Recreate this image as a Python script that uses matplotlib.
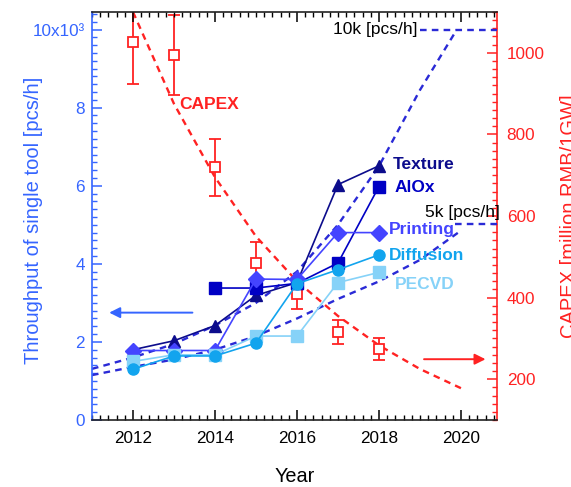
import matplotlib
matplotlib.use("Agg")
import matplotlib.pyplot as plt
from matplotlib.ticker import MultipleLocator, FixedLocator

plt.rcParams["font.family"] = ["Liberation Sans", "DejaVu Sans"]

# ---- data ---------------------------------------------------------------
years = [2012, 2013, 2014, 2015, 2016, 2017, 2018]
texture = [1.80, 2.03, 2.42, 3.19, 3.52, 6.03, 6.51]          # x10^3 pcs/h
alox_years = [2014, 2015, 2016, 2017, 2018]
alox = [3.38, 3.38, 3.50, 4.02, 5.98]
printing = [1.78, 1.78, 1.78, 3.61, 3.60, 4.80, 4.80]
diffusion = [1.30, 1.64, 1.64, 1.97, 3.49, 3.85, 4.23]
pecvd = [1.50, 1.67, 1.67, 2.15, 2.15, 3.52, 3.78]

capex = [1027, 995, 719, 486, 408, 316, 273]                  # million RMB / 1GW
capex_err = [103, 98, 70, 50, 35, 30, 27]

# throughput trend curves
trend_hi_years = [2011, 2012, 2013, 2014, 2015, 2016, 2017, 2018, 2019, 2019.9]
trend_hi = [1.31, 1.60, 1.95, 2.42, 3.00, 3.80, 5.00, 6.50, 8.45, 10.0]
cap_hi_years = [2019.0, 2021.0]
cap_hi = [10.0, 10.0]

trend_lo_years = [2011, 2012, 2013, 2014, 2015, 2016, 2017, 2018, 2019, 2020.0]
trend_lo = [1.15, 1.36, 1.55, 1.80, 2.15, 2.60, 3.10, 3.55, 4.10, 4.85]
cap_lo_years = [2019.85, 2021.0]
cap_lo = [5.03, 5.03]

# CAPEX trend curve
capex_trend_years = [2012, 2013, 2014, 2015, 2016, 2017, 2018, 2019, 2020]
capex_trend = [1100, 875, 695, 550, 440, 355, 283, 225, 178]

x_ticks = [2012, 2014, 2016, 2018, 2020]
left_ticks = [0, 2, 4, 6, 8, 10]
left_labels = ["0", "2", "4", "6", "8", "10x10\u00b3"]
right_ticks = [200, 400, 600, 800, 1000]

# ---- colours ------------------------------------------------------------
BLUE_AX = "#3565ff"
RED = "#ff2222"
C_TEX = "#0c0c8c"
C_ALOX = "#0000c4"
C_PRINT = "#4444ff"
C_DIFF = "#12a4ee"
C_PECVD = "#86d2f8"
C_TREND = "#2a2ad6"

fig = plt.figure(figsize=(5.71, 4.87), dpi=100)
ax = fig.add_axes([92 / 571, 1 - 420 / 487, 405 / 571, 408 / 487])
ax2 = ax.twinx()
ax.set_zorder(ax2.get_zorder() + 1)
ax.patch.set_visible(False)

# ---- right axis: CAPEX ----------------------------------------------------
ax2.plot(capex_trend_years, capex_trend, color=RED, lw=1.7,
         linestyle=(0, (2.8, 2.2)))
ax2.errorbar(years, capex, yerr=capex_err, fmt="s", color=RED, ecolor=RED,
             mfc="white", mec=RED, ms=7, mew=1.3, elinewidth=1.3,
             capsize=4, capthick=1.3)
ax2.annotate("", xy=(2020.6, 249), xytext=(2019.1, 249),
             arrowprops=dict(arrowstyle="-|>", color=RED, lw=1.4,
                             mutation_scale=16, shrinkA=0, shrinkB=0))

# ---- left axis: throughput ------------------------------------------------
dash = (0, (2.8, 2.2))
ax.plot(trend_hi_years, trend_hi, color=C_TREND, lw=1.7, linestyle=dash)
ax.plot(cap_hi_years, cap_hi, color=C_TREND, lw=1.7, linestyle=dash)
ax.plot(trend_lo_years, trend_lo, color=C_TREND, lw=1.7, linestyle=dash)
ax.plot(cap_lo_years, cap_lo, color=C_TREND, lw=1.7, linestyle=dash)

ax.plot(years, texture, color=C_TEX, marker="^", ms=9, lw=1.2)
ax.plot(alox_years, alox, color=C_ALOX, marker="s", ms=8, lw=1.2)
ax.plot(years, printing, color=C_PRINT, marker="D", ms=8, lw=1.2)
ax.plot(years, pecvd, color=C_PECVD, marker="s", ms=8, lw=1.2)
ax.plot(years, diffusion, color=C_DIFF, marker="o", ms=8, lw=1.2)

ax.annotate("", xy=(2011.42, 2.75), xytext=(2013.45, 2.75),
            arrowprops=dict(arrowstyle="-|>", color=BLUE_AX, lw=1.4,
                            mutation_scale=16, shrinkA=0, shrinkB=0))

lab = dict(fontsize=12.5, fontweight="bold", va="center", ha="left")
ax.text(2018.34, 6.54, "Texture", color=C_TEX, **lab)
ax.text(2018.39, 5.95, "AlOx", color=C_ALOX, **lab)
ax.text(2018.24, 4.87, "Printing", color=C_PRINT, **lab)
ax.text(2018.24, 4.21, "Diffusion", color=C_DIFF, **lab)
ax.text(2018.39, 3.46, "PECVD", color=C_PECVD, **lab)
ax.text(2013.12, 8.08, "CAPEX", color=RED, **lab)
ax.text(2018.93, 10.0, "10k [pcs/h]", color="black", fontsize=12.5,
        va="center", ha="right")
ax.text(2019.12, 5.31, "5k [pcs/h]", color="black", fontsize=12.5,
        va="center", ha="left")

# ---- axes styling ---------------------------------------------------------
ax.set_xlim(2011.0, 2020.88)
ax.set_ylim(0, 10.45)
ax2.set_ylim(100, 1100)

ax.xaxis.set_major_locator(FixedLocator(x_ticks))
ax.xaxis.set_minor_locator(MultipleLocator(0.2))
ax.set_yticks(left_ticks)
ax.set_yticklabels(left_labels)
ax.yaxis.set_minor_locator(MultipleLocator(0.2))
ax2.set_yticks(right_ticks)
ax2.yaxis.set_minor_locator(MultipleLocator(20))

ax.tick_params(axis="x", which="both", direction="in", top=True, bottom=True,
               colors="black", labelsize=12.3, pad=8)
ax.tick_params(axis="x", which="major", length=7, width=1.1)
ax.tick_params(axis="x", which="minor", length=3.5, width=1.0)
ax.tick_params(axis="y", which="both", direction="in", left=True, right=False,
               colors=BLUE_AX, labelsize=12.3, pad=5)
ax.tick_params(axis="y", which="major", length=7, width=1.1)
ax.tick_params(axis="y", which="minor", length=3.5, width=1.0)
ax2.tick_params(axis="y", which="both", direction="in", colors=RED,
                labelsize=12.3, pad=7)
ax2.tick_params(axis="y", which="major", length=7, width=1.1)
ax2.tick_params(axis="y", which="minor", length=3.5, width=1.0)

for s in ("top", "bottom"):
    ax.spines[s].set_color("#222222")
    ax.spines[s].set_linewidth(1.2)
ax.spines["left"].set_color(BLUE_AX)
ax.spines["left"].set_linewidth(1.2)
ax.spines["right"].set_visible(False)
for s in ("left", "top", "bottom"):
    ax2.spines[s].set_visible(False)
ax2.spines["right"].set_color(RED)
ax2.spines["right"].set_linewidth(1.2)

ax.set_xlabel("Year", fontsize=14.3, labelpad=15)
ax.set_ylabel("Throughput of single tool [pcs/h]", fontsize=14.5, color=BLUE_AX)
ax.yaxis.set_label_coords(-0.12, 0.49)
ax2.set_ylabel("CAPEX [million RMB/1GW]", fontsize=14.5, color=RED)
ax2.yaxis.set_label_coords(1.155, 0.5)

fig.savefig("out.png", dpi=100)
